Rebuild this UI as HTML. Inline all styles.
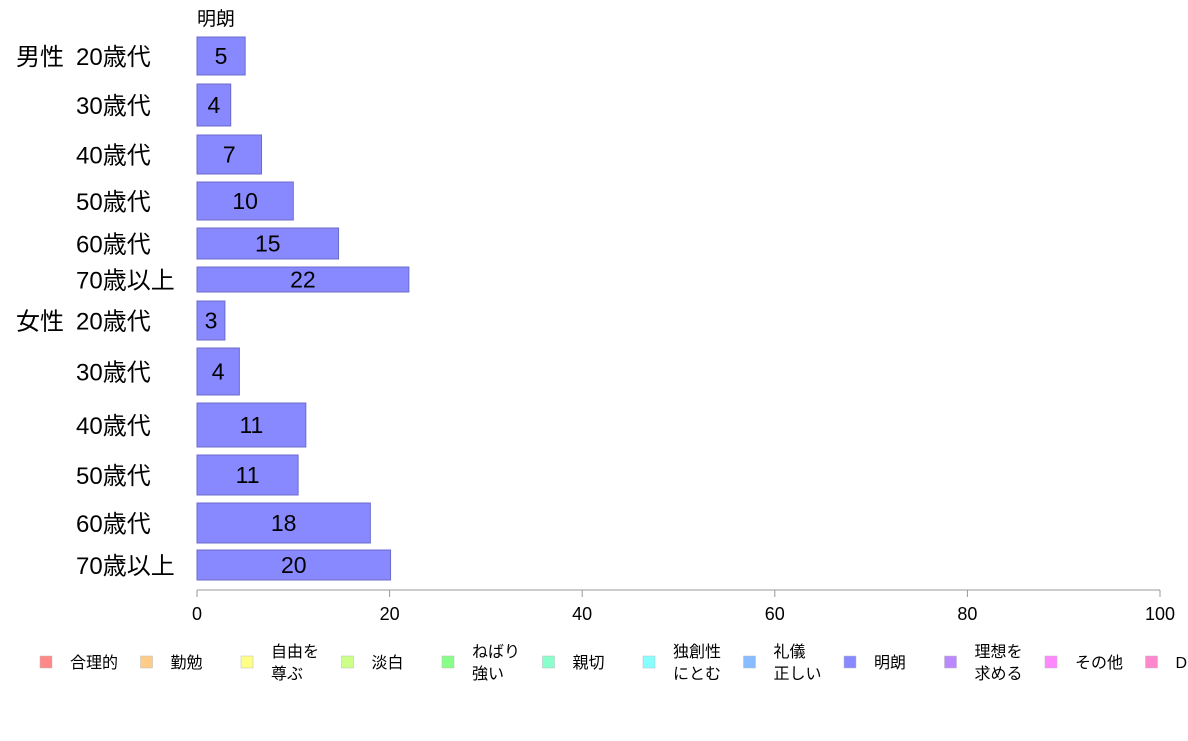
<!DOCTYPE html>
<html><head><meta charset="utf-8"><style>
body{margin:0;background:#fff;width:1188px;height:736px;overflow:hidden}
svg text{font-family:"Liberation Sans","Noto Sans CJK JP",sans-serif;fill:#000}
</style></head><body>
<svg id="chart" width="1188" height="736"></svg>
<script>
const groups=["男性","","","","","","女性","","","","",""];
const categories=["20歳代","30歳代","40歳代","50歳代","60歳代","70歳以上","20歳代","30歳代","40歳代","50歳代","60歳代","70歳以上"];
const values=[5.0,3.5,6.7,10.0,14.7,22.0,2.9,4.4,11.3,10.5,18.0,20.1];
const valueLabels=["5","4","7","10","15","22","3","4","11","11","18","20"];
const bandTops=[37,84,135,182,228,267,301,348,403,455,503,550];
const bandHeights=[38,42,39,38,31,25,39,47,44,40,40,30];
const ticks=[0,20,40,60,80,100];
const legendLabels=[["合理的"],["勤勉"],["自由を","尊ぶ"],["淡白"],["ねばり","強い"],["親切"],["独創性","にとむ"],["礼儀","正しい"],["明朗"],["理想を","求める"],["その他"],["D"]];
const legendColors=["#ff8888","#ffcc88","#ffff88","#ccff88","#88ff88","#88ffcc","#88ffff","#88bbff","#8888ff","#bb88ff","#ff88ff","#ff88cc"];
const NS="http://www.w3.org/2000/svg",svg=document.getElementById("chart");
const x0=197,x1=1160,xs=v=>x0+(v/100)*(x1-x0);
function el(t,a,txt){const e=document.createElementNS(NS,t);for(const k in a)e.setAttribute(k,a[k]);if(txt!=null)e.textContent=txt;svg.appendChild(e);return e;}
let h=el("text",{x:197,y:25,"font-size":19},"明朗");


values.forEach((v,i)=>{
 const y=bandTops[i],hh=bandHeights[i],cy=y+hh/2;
 let r=el("rect",{x:x0,y:y,width:xs(v)-x0,height:hh,fill:"#8888ff",stroke:"#6b6bcc","stroke-width":1});
 
 
 let t=el("text",{x:(x0+xs(v))/2,y:cy+8,"font-size":23,"text-anchor":"middle"},valueLabels[i]);
 
 
 let c=el("text",{x:76,y:cy+9,"font-size":24},categories[i]);
 
 
 if(groups[i]){let g=el("text",{x:16,y:cy+9,"font-size":24},groups[i]);
 
 }
});
let ax=el("line",{x1:x0,x2:x1,y1:590,y2:590,stroke:"#999","stroke-width":1});


ticks.forEach(tk=>{
 let l=el("line",{x1:xs(tk),x2:xs(tk),y1:590,y2:597,stroke:"#999"});
 
 
 let t=el("text",{x:xs(tk),y:620,"font-size":18,"text-anchor":"middle"},tk);
 
 
});
legendLabels.forEach((lab,i)=>{
 const lx=40+i*100.5;
 let s=el("rect",{x:lx,y:656,width:12,height:12,fill:legendColors[i],stroke:"#bbb","stroke-width":0.5});
 
 
 if(lab.length===1){let t=el("text",{x:lx+30,y:668,"font-size":16},lab[0]);
  
  }
 else lab.forEach((ln,j)=>{let t=el("text",{x:lx+30,y:657+j*22,"font-size":16},ln);
  
  });
});
</script>
</body></html>
